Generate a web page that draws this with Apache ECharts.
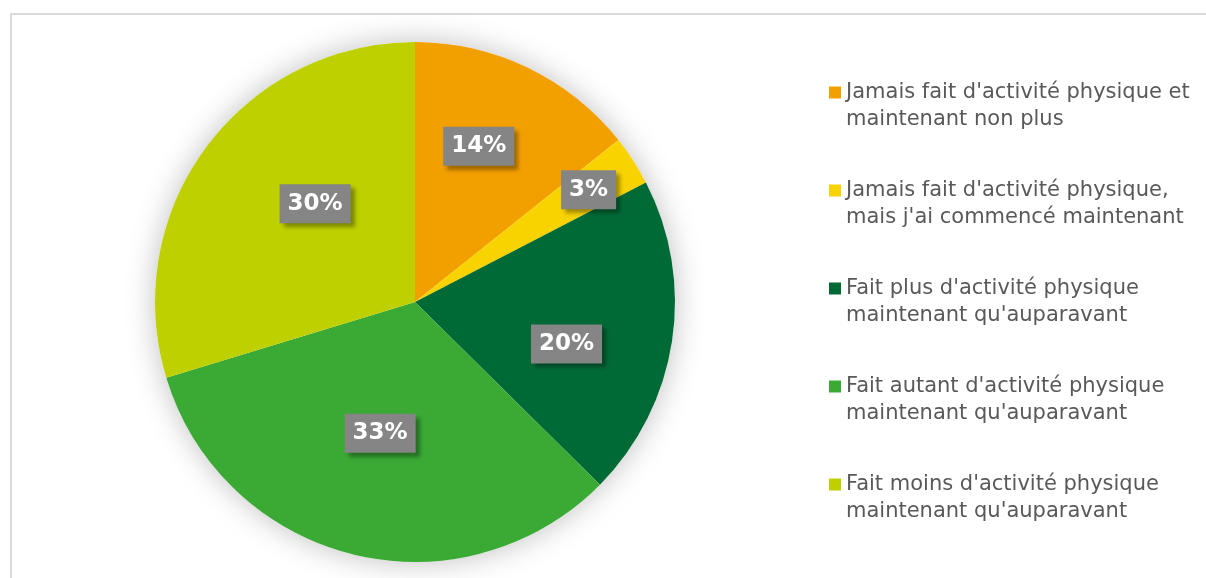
<!DOCTYPE html>
<html>
<head>
<meta charset="utf-8">
<script src="https://cdn.jsdelivr.net/npm/echarts@6/dist/echarts.min.js"></script>
<style>
  html, body { margin: 0; padding: 0; background: #fff; overflow: hidden; }
  #main { position: absolute; left: 0; top: 0; width: 1206px; height: 578px; }
  /* cadre gris du graphique (ouvert en bas et à droite) */
  #frame { position: absolute; left: 10px; top: 13px; width: 1400px; height: 800px;
           border: 2px solid #d9d9d9; pointer-events: none; }
</style>
</head>
<body>
<div id="main"></div>
<div id="frame"></div>
<script>
// catégories (retours à la ligne comme dans la légende)
var categories = [
  "Jamais fait d'activité physique et\nmaintenant non plus",
  "Jamais fait d'activité physique,\nmais j'ai commencé maintenant",
  "Fait plus d'activité physique\nmaintenant qu'auparavant",
  "Fait autant d'activité physique\nmaintenant qu'auparavant",
  "Fait moins d'activité physique\nmaintenant qu'auparavant"
];
// parts estimées sur l'image (affichées arrondies)
var values = [14.3, 3.1, 20.0, 32.9, 29.7];
var colors = ['#F29F00', '#F8D300', '#006A37', '#3AAA35', '#BED000'];
// décalage des étiquettes (placement "ajustement optimal" d'Excel)
var labelNudge = [[6, -36], [62, -40], [20, 22], [-3, 2], [7, -19]];

var myChart = echarts.init(document.getElementById('main'));

var pieData = [];
for (var i = 0; i < categories.length; i++) {
  pieData.push({
    name: categories[i],
    value: values[i],
    itemStyle: { color: colors[i] },
    label: { offset: labelNudge[i] }
  });
}

var option = {
  animation: false,
  legend: {
    data: categories,
    orient: 'vertical',
    left: 829,
    top: 79,
    padding: 0,
    itemWidth: 12,
    itemHeight: 39,
    itemGap: 44,
    // carré en haut, aligné sur la 1re ligne du texte
    icon: 'path://M0,0H12V12H0Z M0,39',
    selectedMode: false,
    textStyle: {
      fontFamily: 'DejaVu Sans',
      fontSize: 21,
      lineHeight: 27,
      color: '#595959'
    }
  },
  series: [
    {
      // halo gris autour du camembert
      type: 'pie',
      silent: true,
      center: [415, 302],
      radius: 260,
      label: { show: false },
      labelLine: { show: false },
      itemStyle: {
        color: '#ffffff',
        shadowBlur: 30,
        shadowColor: 'rgba(0,0,0,0.25)'
      },
      data: [{ value: 1, name: '' }]
    },
    {
      type: 'pie',
      center: [415, 302],
      radius: 260,
      startAngle: 90,
      clockwise: true,
      avoidLabelOverlap: false,
      emphasis: { disabled: true },
      itemStyle: { borderWidth: 0 },
      labelLine: { show: false },
      label: {
        show: true,
        position: 'inside',
        rotate: 0,
        formatter: function (p) { return Math.round(p.value) + '%'; },
        fontFamily: 'DejaVu Sans',
        fontWeight: 'bold',
        fontSize: 23,
        lineHeight: 27,
        color: '#ffffff',
        backgroundColor: '#858585',
        padding: [6, 8, 6, 8],
        shadowColor: 'rgba(0,0,0,0.35)',
        shadowBlur: 4,
        shadowOffsetX: 4,
        shadowOffsetY: 4
      },
      data: pieData
    }
  ]
};

myChart.setOption(option);
</script>
</body>
</html>
